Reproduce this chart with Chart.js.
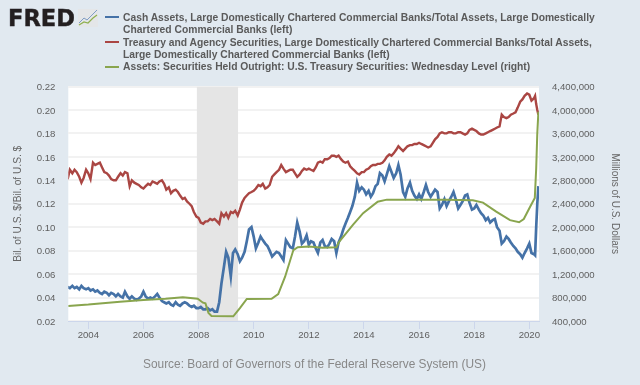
<!DOCTYPE html>
<html><head><meta charset="utf-8">
<style>
html,body{margin:0;padding:0;background:#e1e9f0;width:640px;height:385px;overflow:hidden;font-family:"Liberation Sans",Arial,sans-serif}
#c{position:absolute;left:0;top:0}
.logo{position:absolute;left:8px;top:5px;font:bold 22.6px "DejaVu Sans";color:#231f20;-webkit-text-stroke:.4px #231f20}
.ico{position:absolute;left:78px;top:9px}
.lg{position:absolute;left:123px;font:bold 10.3px/12.3px "Liberation Sans";color:#5a5a5a;white-space:nowrap}
.sw{position:absolute;left:105px;width:14px;height:2px}
.src{position:absolute;left:143px;top:357px;font:11.9px "Liberation Sans";color:#888;white-space:nowrap}
</style></head><body>
<canvas id="c" width="640" height="385"></canvas>
<div class="logo">FRED</div>
<svg class="ico" width="20" height="18" viewBox="0 0 20 18"><rect width="20" height="18" fill="#e4e6e8"/><path d="M1 14L6 9L9 11L14 6L19 1" stroke="#7f9cc4" stroke-width="1" fill="none"/><path d="M1 16L6 13L10 14L15 9L19 6" stroke="#8fb04f" stroke-width="1.2" fill="none"/></svg>
<div class="sw" style="top:16px;background:#4572a7"></div>
<div class="sw" style="top:41px;background:#aa4643"></div>
<div class="sw" style="top:66px;background:#89a54e"></div>
<div class="lg" style="top:12px">Cash Assets, Large Domestically Chartered Commercial Banks/Total Assets, Large Domestically<br>Chartered Commercial Banks (left)</div>
<div class="lg" style="top:37px">Treasury and Agency Securities, Large Domestically Chartered Commercial Banks/Total Assets,<br>Large Domestically Chartered Commercial Banks (left)</div>
<div class="lg" style="top:61px">Assets: Securities Held Outright: U.S. Treasury Securities: Wednesday Level (right)</div>
<div class="src">Source: Board of Governors of the Federal Reserve System (US)</div>
<script src="https://cdn.jsdelivr.net/npm/chart.js@4"></script>
<script>
const months=[
2003.25,2003.33,2003.42,2003.5,2003.58,2003.67,2003.75,2003.83,2003.92,
2004,2004.08,2004.17,2004.25,2004.33,2004.42,2004.5,2004.58,2004.67,2004.75,2004.83,2004.92,
2005,2005.08,2005.17,2005.25,2005.33,2005.42,2005.5,2005.58,2005.67,2005.75,2005.83,2005.92,
2006,2006.08,2006.17,2006.25,2006.33,2006.42,2006.5,2006.58,2006.67,2006.75,2006.83,2006.92,
2007,2007.08,2007.17,2007.25,2007.33,2007.42,2007.5,2007.58,2007.67,2007.75,2007.83,2007.92,
2008,2008.08,2008.17,2008.25,2008.33,2008.42,2008.5,2008.58,2008.67,2008.75,2008.83,2008.92,
2009,2009.08,2009.17,2009.25,2009.33,2009.42,2009.5,2009.58,2009.67,2009.75,2009.83,2009.92,
2010,2010.08,2010.17,2010.25,2010.33,2010.42,2010.5,2010.58,2010.67,2010.75,2010.83,2010.92,
2011,2011.08,2011.17,2011.25,2011.33,2011.42,2011.5,2011.58,2011.67,2011.75,2011.83,2011.92,
2012,2012.08,2012.17,2012.25,2012.33,2012.42,2012.5,2012.58,2012.67,2012.75,2012.83,2012.92,
2013,2013.08,2013.17,2013.25,2013.33,2013.42,2013.5,2013.58,2013.67,2013.75,2013.83,2013.92,
2014,2014.08,2014.17,2014.25,2014.33,2014.42,2014.5,2014.58,2014.67,2014.75,2014.83,2014.92,
2015,2015.08,2015.17,2015.25,2015.33,2015.42,2015.5,2015.58,2015.67,2015.75,2015.83,2015.92,
2016,2016.08,2016.17,2016.25,2016.33,2016.42,2016.5,2016.58,2016.67,2016.75,2016.83,2016.92,
2017,2017.08,2017.17,2017.25,2017.33,2017.42,2017.5,2017.58,2017.67,2017.75,2017.83,2017.92,
2018,2018.08,2018.17,2018.25,2018.33,2018.42,2018.5,2018.58,2018.67,2018.75,2018.83,2018.92,
2019,2019.08,2019.17,2019.25,2019.33,2019.42,2019.5,2019.58,2019.67,2019.75,2019.83,2019.92,
2020,2020.08,2020.17,2020.21,2020.25,2020.29,2020.33];
const cashShare=[
.049,.048,.050,.048,.049,.047,.050,.048,.047,
.048,.046,.047,.045,.046,.044,.043,.045,.044,.042,.044,.043,
.041,.043,.041,.040,.045,.041,.039,.041,.039,.038,.039,.041,
.045,.041,.039,.040,.039,.041,.043,.040,.037,.036,.035,.036,
.034,.033,.036,.034,.033,.035,.036,.035,.033,.032,.033,.031,
.031,.032,.030,.030,.031,.029,.030,.028,.028,.036,.052,.066,
.079,.074,.058,.078,.081,.077,.071,.074,.079,.088,.098,.100,
.092,.082,.087,.092,.089,.086,.084,.080,.075,.077,.079,.078,
.075,.072,.089,.086,.083,.082,.092,.104,.096,.086,.088,.093,
.085,.088,.087,.082,.078,.087,.089,.084,.083,.086,.090,.088,
.078,.087,.092,.098,.103,.108,.113,.118,.126,.138,.131,.134,
.132,.128,.131,.126,.129,.135,.137,.146,.144,.139,.145,.152,
.147,.142,.146,.153,.145,.130,.126,.133,.138,.131,.127,.124,
.128,.124,.130,.136,.130,.126,.129,.132,.130,.116,.119,.124,
.118,.122,.126,.130,.124,.116,.119,.122,.127,.128,.121,.115,
.116,.119,.115,.112,.110,.106,.108,.104,.106,.107,.100,.097,
.086,.088,.092,.090,.087,.084,.082,.079,.077,.074,.078,.082,
.086,.078,.077,.076,.100,.120,.135];
const treasuryShare=[
.141,.149,.146,.149,.147,.143,.138,.142,.149,
.146,.141,.155,.153,.154,.155,.151,.147,.146,.144,.141,.140,
.140,.143,.146,.144,.147,.146,.135,.140,.138,.137,.136,.134,
.133,.135,.137,.136,.139,.138,.137,.139,.140,.137,.132,.134,
.129,.131,.132,.130,.127,.124,.125,.122,.120,.118,.113,.109,
.108,.104,.103,.105,.105,.107,.106,.107,.105,.103,.112,.109,
.112,.108,.113,.112,.114,.110,.115,.121,.125,.127,.129,.130,
.131,.133,.136,.135,.137,.133,.134,.136,.143,.145,.147,.149,
.153,.150,.147,.148,.149,.149,.146,.143,.145,.148,.150,.149,
.150,.149,.148,.151,.155,.156,.155,.158,.158,.159,.161,.161,
.160,.161,.158,.156,.155,.156,.152,.150,.148,.146,.145,.147,
.147,.149,.150,.152,.153,.153,.154,.154,.155,.157,.160,.162,
.161,.163,.166,.169,.167,.165,.167,.169,.170,.170,.171,.171,
.172,.171,.170,.169,.168,.169,.172,.175,.177,.180,.181,.180,
.180,.181,.181,.180,.180,.181,.181,.180,.179,.180,.183,.184,
.183,.182,.180,.179,.179,.180,.181,.182,.183,.184,.185,.186,
.196,.194,.193,.194,.196,.197,.198,.202,.207,.209,.212,.214,
.213,.208,.210,.212,.205,.200,.196];
const heldYears=[2003.27,2004,2005.15,2006,2006.8,2007.43,2007.97,2008.16,2008.25,2008.36,2008.47,2009.26,2009.5,2009.75,2010.65,2010.89,2011.14,2011.44,2011.6,2012,2012.5,2013,2013.1,2013.6,2013.97,2014.5,2014.83,2016,2017,2017.95,2018.32,2018.8,2019.3,2019.63,2019.8,2020.03,2020.2,2020.25,2020.29,2020.33];
const heldValues=[656000,680000,730000,758000,780000,804000,780000,712000,700000,536000,485000,480000,620000,775000,780000,860000,1155000,1610000,1660000,1670000,1650000,1657000,1750000,2040000,2240000,2435000,2470000,2470000,2470000,2460000,2420000,2265000,2120000,2085000,2140000,2350000,2500000,3000000,3600000,3970000];
const recessionYears=[2007.93,2009.44];
const recessionTop=[0.22,0.22];
const pairs=(xs,ys)=>xs.map((x,i)=>({x,y:ys[i]}));
const plotBg={id:'plotBg',beforeDraw(ch){const a=ch.chartArea,c=ch.ctx;c.save();c.fillStyle='#fff';c.fillRect(a.left,a.top,a.width,a.height);c.restore();}};
const line=(label,data,color,axis,order,w)=>({label,data,borderColor:color,backgroundColor:color,borderWidth:w,pointRadius:0,tension:0,yAxisID:axis,order,fill:false});
const tickFont={size:9.6,family:'Liberation Sans'};
new Chart(document.getElementById('c'),{type:'line',
data:{datasets:[
{label:'Recession',data:pairs(recessionYears,recessionTop),borderWidth:0,pointRadius:0,backgroundColor:'#e5e5e5',fill:'start',yAxisID:'y',order:5},
line('Cash Assets',pairs(months,cashShare),'#4572a7','y',3,2.7),
line('Treasury and Agency Securities',pairs(months,treasuryShare),'#aa4643','y',2,2.4),
line('Securities Held Outright',pairs(heldYears,heldValues),'#89a54e','y1',1,2)
]},
plugins:[plotBg],
options:{responsive:false,animation:false,
layout:{padding:{left:0,right:0,top:86.5,bottom:0}},
plugins:{legend:{display:false},tooltip:{enabled:false}},
scales:{
x:{type:'linear',min:2003.274,max:2020.352,
afterFit(s){s.height=64;},
border:{color:'#ccd6eb',width:1},
grid:{drawOnChartArea:false,drawTicks:true,tickLength:8,tickColor:'#ccd6eb'},
ticks:{stepSize:2,includeBounds:false,autoSkip:false,maxRotation:0,color:'#5f5f5f',font:tickFont,padding:1,callback:v=>String(v)}},
y:{position:'left',min:0.02,max:0.22,
afterFit(s){s.width=68.3;},
border:{display:false},
grid:{color:'#f2f2f2',lineWidth:2,drawTicks:false},
title:{display:true,text:'Bil. of U.S. $/Bil. of U.S. $',color:'#666',font:{size:10.2,family:'Liberation Sans'},padding:{top:12,bottom:0}},
ticks:{stepSize:0.02,color:'#5f5f5f',font:tickFont,padding:13,labelOffset:1,callback:v=>v.toFixed(2)}},
y1:{position:'right',min:400000,max:4400000,
afterFit(s){s.width=101;},
border:{display:false},
grid:{drawOnChartArea:false,drawTicks:false},
title:{display:true,text:'Millions of U.S. Dollars',color:'#666',font:{size:10,family:'Liberation Sans'},padding:{top:19,bottom:0}},
ticks:{stepSize:400000,color:'#5f5f5f',font:tickFont,padding:13,labelOffset:1,callback:v=>v.toLocaleString('en-US')}}
}}});
</script>
</body></html>
